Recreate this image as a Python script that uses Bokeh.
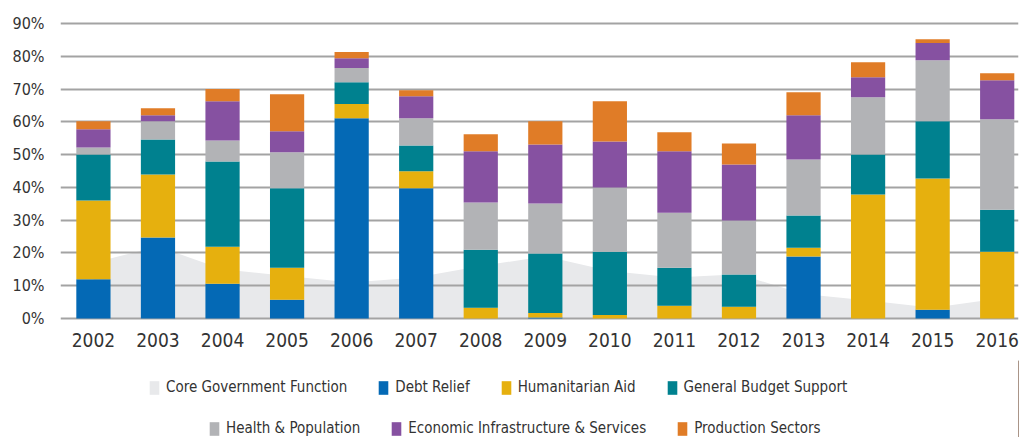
from bokeh.plotting import figure
from bokeh.layouts import column
from bokeh.models import ColumnDataSource, Range1d, FixedTicker, PrintfTickFormatter, Legend, LegendItem
from bokeh.embed import file_html
from bokeh.resources import INLINE

years = [2002, 2003, 2004, 2005, 2006, 2007, 2008, 2009, 2010, 2011, 2012, 2013, 2014, 2015, 2016]
core = [17, 22, 15, 13, 11, 12.5, 16, 19, 14.5, 12.5, 13.5, 7.5, 5.5, 3.3, 6]
debt = [12, 24.7, 10.6, 5.7, 61.1, 39.7, 0, 0.3, 0, 0, 0, 18.9, 0, 2.7, 0]
hum = [24, 19.2, 11.3, 9.8, 4.3, 5.2, 3.3, 1.4, 1.1, 3.9, 3.6, 2.7, 37.8, 40, 20.4]
gbs = [14, 10.7, 26, 24.2, 6.7, 7.9, 17.7, 18.1, 19.3, 11.6, 9.8, 9.8, 12.2, 17.5, 12.8]
health = [2.2, 5.6, 6.4, 11, 4.3, 8.3, 14.4, 15.3, 19.6, 16.8, 16.5, 17.1, 17.5, 18.6, 27.6]
econ = [5.5, 1.8, 12, 6.4, 3.0, 6.7, 15.6, 18, 14, 18.7, 17.1, 13.5, 6.1, 5.2, 11.9]
prod = [2.5, 2.1, 3.7, 11.3, 1.9, 1.8, 5.2, 7.1, 12.3, 5.8, 6.4, 7.0, 4.6, 1.2, 2.1]
y_ticks = [0, 10, 20, 30, 40, 50, 60, 70, 80, 90]

series = ["debt", "hum", "gbs", "health", "econ", "prod"]
labels = ["Debt Relief", "Humanitarian Aid", "General Budget Support",
          "Health & Population", "Economic Infrastructure & Services", "Production Sectors"]
colors = ["#0469b5", "#e6b00e", "#00818f", "#b2b3b6", "#8651a1", "#e07c27"]
core_label = "Core Government Function"
core_color = "#e8e9eb"

FONT = "DejaVu Sans Condensed, Roboto"
TEXT = "#333333"

src = ColumnDataSource(dict(year=years, core=core, debt=debt, hum=hum, gbs=gbs,
                            health=health, econ=econ, prod=prod))

p = figure(width=1021, height=360, output_backend="svg", toolbar_location=None,
           x_range=Range1d(2002 - 0.51, 2016 + 0.33), y_range=Range1d(-0.6, 90.9),
           min_border_left=60, min_border_right=3, min_border_top=20, min_border_bottom=40)
p.outline_line_color = None
p.xgrid.visible = False
p.ygrid.visible = False

area = p.varea(x="year", y1=0, y2="core", source=src, fill_color=core_color)
p.hspan(y=y_ticks, line_color="#a3a3a3", line_width=2)
bars = p.vbar_stack(series, x="year", width=0.53, source=src, color=colors, line_color=None)

p.yaxis.ticker = FixedTicker(ticks=y_ticks)
p.yaxis.formatter = PrintfTickFormatter(format="%d%%")
p.xaxis.ticker = FixedTicker(ticks=years)
for ax in (p.xaxis[0], p.yaxis[0]):
    ax.axis_line_color = None
    ax.major_tick_line_color = None
    ax.minor_tick_line_color = None
    ax.major_tick_out = 0
    ax.major_tick_in = 0
    ax.major_label_text_font = FONT
    ax.major_label_text_color = TEXT
p.yaxis.major_label_text_font_size = "16px"
p.yaxis.major_label_standoff = 16
p.xaxis.major_label_text_font_size = "19px"
p.xaxis.major_label_standoff = 12

# legend strip below the chart; its swatch renderers sit outside the visible range
lf = figure(width=1021, height=77, output_backend="svg", toolbar_location=None,
            x_axis_type=None, y_axis_type=None, x_range=Range1d(0, 1), y_range=Range1d(0, 1),
            min_border_left=0, min_border_right=0, min_border_top=0, min_border_bottom=0)
lf.outline_line_color = None
lf.xgrid.visible = False
lf.ygrid.visible = False
off = [5, 6]
dummy_area = lf.varea(x=off, y1=[0, 0], y2=[1, 1], fill_color=core_color)
dummy_bars = [lf.vbar(x=off[:1], top=[1], width=0.1, fill_color=c, line_color=None) for c in colors]

items1 = [LegendItem(label=core_label, renderers=[dummy_area])] + \
         [LegendItem(label=labels[i], renderers=[dummy_bars[i]]) for i in range(3)]
items2 = [LegendItem(label=labels[i], renderers=[dummy_bars[i]]) for i in range(3, 6)]

for items, loc in ((items1, (88, 41)), (items2, (148, 0))):
    lg = Legend(items=items, orientation="horizontal", location=loc,
                spacing=30, padding=0, margin=0, glyph_width=12, glyph_height=17,
                label_height=17, label_standoff=6, label_text_font=FONT,
                label_text_font_size="15px", label_text_color=TEXT,
                border_line_color=None, background_fill_alpha=0)
    lf.add_layout(lg, "center")

layout = column(p, lf, spacing=0)
open("out.html", "w").write(file_html(layout, INLINE))
